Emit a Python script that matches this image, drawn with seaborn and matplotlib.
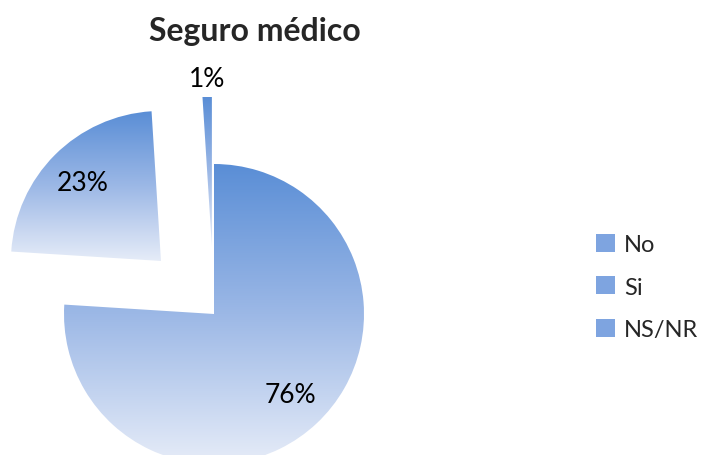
import numpy as np
import matplotlib
matplotlib.use("Agg")
import matplotlib.pyplot as plt
from matplotlib.patches import Patch
import seaborn as sns

# data
categories = ["No", "Si", "NS/NR"]
shares = [76, 23, 1]
explode = [0, 0.5, 0.45]
title = "Seguro médico"

sns.set_theme(style="white")
plt.rcParams['font.family'] = ['Lato', 'DejaVu Sans']

top_blue = "#5A8ED6"
light_blue = "#E6ECF8"
grad_cmap = sns.blend_palette([top_blue, "#9CB8E6", light_blue], as_cmap=True)

fig = plt.figure(figsize=(7.02, 4.56), dpi=100)
ax = fig.add_axes([0, 0, 520 / 702, 1])

wedges, texts, autotexts = ax.pie(
    shares, explode=explode, startangle=90, counterclock=False,
    autopct="%1.0f%%", pctdistance=0.74,
    wedgeprops=dict(linewidth=0, edgecolor="none"),
    textprops=dict(fontsize=19, color="black"),
)

# vertical gradient inside each slice (like the Office fill)
grad = np.linspace(0, 1, 256).reshape(-1, 1)
for w in wedges:
    w.set_facecolor("none")
    ext = w.get_path().get_extents()
    im = ax.imshow(grad, cmap=grad_cmap, aspect="auto", origin="upper",
                   extent=(ext.x0, ext.x1, ext.y0, ext.y1), zorder=1)
    im.set_clip_path(w)

# the tiny slice keeps its label outside
w = wedges[2]
mid = np.deg2rad((w.theta1 + w.theta2) / 2)
cx, cy = w.center
autotexts[2].set_position((cx + 1.12 * w.r * np.cos(mid), cy + 1.12 * w.r * np.sin(mid)))

ax.set_xlim(-214 / 150, (520 - 214) / 150)
ax.set_ylim((315 - 456) / 150, 315 / 150)
ax.set_aspect("auto")
ax.axis("off")

fig.text(255 / 702, 1 - 31 / 456, title, ha="center", va="center",
         fontsize=23, fontweight="bold")

handles = [Patch(facecolor="#7EA4E0", edgecolor="none") for _ in categories]
fig.legend(handles, categories, loc="center left", bbox_to_anchor=(596 / 702, 1 - 288 / 456),
           frameon=False, fontsize=17, handlelength=0.8, handleheight=0.8,
           handletextpad=0.4, labelspacing=0.9, borderpad=0, borderaxespad=0)

fig.savefig("out.png", dpi=100)
